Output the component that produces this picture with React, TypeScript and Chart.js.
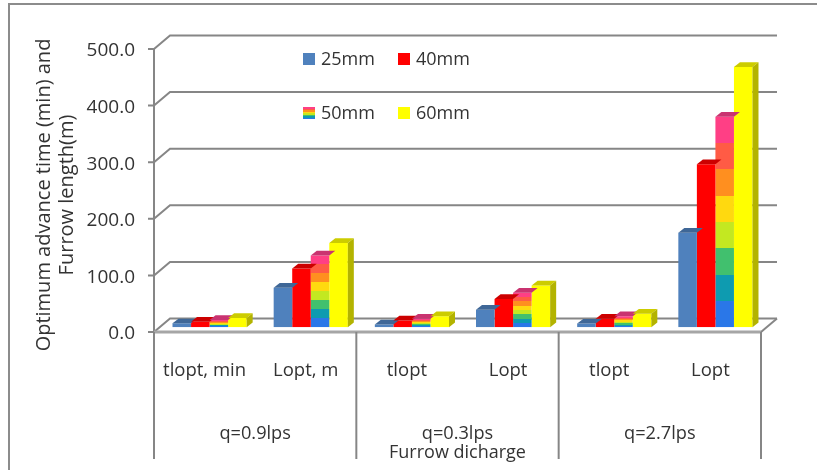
import React, { useEffect, useRef } from "react";
import { Chart, registerables } from "chart.js";

Chart.register(...registerables);

const measures = ["tlopt, min", "Lopt, m", "tlopt", "Lopt", "tlopt", "Lopt"];
const discharges = ["q=0.9lps", "q=0.3lps", "q=2.7lps"];
const seriesNames = ["25mm", "40mm", "50mm", "60mm"];
const values25 = [7, 70, 5, 31, 6.5, 167];
const values40 = [10, 104, 12, 50, 15, 288];
const values50 = [13, 127, 15, 61, 19.5, 372];
const values60 = [16.5, 149, 19.5, 74, 24, 460];
const yTicks = [0, 100, 200, 300, 400, 500];
const yTitleLines = ["Optimum advance time (min) and", "Furrow length(m)"];

const seriesFront = ["#4f81bd", "#ff0000", "", "#ffff00"];
const seriesTop = ["#3f6797", "#cc0000", "#c93370", "#cccc00"];
const seriesSide = ["#375a85", "#b30000", "#b3b300", "#b3b300"];
const bands = ["#2a77e8", "#0e9bb0", "#41c06e", "#c3e821", "#ffd90f", "#ff8f1f", "#ff5b45", "#ff3f85"];

const axisGrey = "#868686";
const textGrey = "#333333";
const fontFamily = '"Open Sans", sans-serif';
const depthX = 16;
const depthY = 13.5;
const barDepthX = 6;
const barDepthY = 4.7;
const barShiftX = 5;
const barShiftY = 4.7;

// Hard-edged rainbow running from the base of a bar to its top.
function bandGradient(ctx: CanvasRenderingContext2D, top: number, bottom: number) {
  const g = ctx.createLinearGradient(0, bottom, 0, top);
  bands.forEach((c, i) => {
    g.addColorStop(i / bands.length, c);
    g.addColorStop((i + 1) / bands.length, c);
  });
  return g;
}

const wallsPlugin = {
  id: "walls",
  beforeDatasetsDraw(chart: any) {
    const { ctx, chartArea: a, scales } = chart;
    const y = scales.y;
    ctx.save();
    ctx.strokeStyle = axisGrey;
    ctx.lineWidth = 2;
    for (const t of yTicks) {
      const py = y.getPixelForValue(t);
      ctx.beginPath();
      ctx.moveTo(a.left - 6, py);
      ctx.lineTo(a.left, py);
      ctx.lineTo(a.left + depthX, py - depthY);
      ctx.lineTo(a.right + depthX, py - depthY);
      ctx.stroke();
    }
    ctx.beginPath();
    ctx.moveTo(a.right, a.bottom);
    ctx.lineTo(a.right + depthX, a.bottom - depthY);
    ctx.stroke();
    ctx.beginPath();
    ctx.moveTo(a.left, a.top);
    ctx.lineTo(a.left, a.bottom);
    ctx.stroke();
    ctx.strokeStyle = "#a6a6a6";
    ctx.lineWidth = 3;
    ctx.beginPath();
    ctx.moveTo(a.left, a.bottom);
    ctx.lineTo(a.right, a.bottom);
    ctx.stroke();
    // Separators between the discharge groups.
    ctx.strokeStyle = axisGrey;
    ctx.lineWidth = 2;
    for (let i = 0; i <= discharges.length; i++) {
      const px = a.left + ((a.right - a.left) * i) / discharges.length;
      ctx.beginPath();
      ctx.moveTo(px, a.bottom);
      ctx.lineTo(px, 459);
      ctx.stroke();
    }
    ctx.restore();
    ctx.save();
    ctx.translate(barShiftX, -barShiftY);
  },
  afterDatasetsDraw(chart: any) {
    const { ctx } = chart;
    // Top and side faces of every bar; the side only shows on the last series.
    chart.data.datasets.forEach((_: any, di: number) => {
      chart.getDatasetMeta(di).data.forEach((bar: any) => {
        const hw = bar.width / 2;
        const l = bar.x - hw;
        const r = bar.x + hw;
        const t = bar.y;
        const b = bar.base;
        ctx.fillStyle = seriesTop[di];
        ctx.beginPath();
        ctx.moveTo(l, t);
        ctx.lineTo(l + barDepthX, t - barDepthY);
        ctx.lineTo(r + barDepthX, t - barDepthY);
        ctx.lineTo(r, t);
        ctx.closePath();
        ctx.fill();
        if (di === chart.data.datasets.length - 1) {
          ctx.fillStyle = seriesSide[di];
          ctx.beginPath();
          ctx.moveTo(r, t);
          ctx.lineTo(r + barDepthX, t - barDepthY);
          ctx.lineTo(r + barDepthX, b - barDepthY);
          ctx.lineTo(r, b);
          ctx.closePath();
          ctx.fill();
        }
      });
    });
    ctx.restore();
  },
  afterDraw(chart: any) {
    const { ctx } = chart;
    // Page frame.
    ctx.save();
    ctx.strokeStyle = "#8c8c8c";
    ctx.lineWidth = 2;
    ctx.beginPath();
    ctx.moveTo(9, 470);
    ctx.lineTo(9, 4);
    ctx.lineTo(817, 4);
    ctx.stroke();
    // Two-by-two legend placed over the back wall.
    const cells = [
      [303, 53],
      [398, 53],
      [303, 107],
      [398, 107],
    ];
    ctx.font = `18px ${fontFamily}`;
    ctx.textBaseline = "middle";
    ctx.textAlign = "left";
    seriesNames.forEach((name, i) => {
      const [x, y] = cells[i];
      ctx.fillStyle = i === 2 ? bandGradient(ctx, y, y + 12) : seriesFront[i];
      ctx.fillRect(x, y, 12, 12);
      ctx.fillStyle = textGrey;
      ctx.fillText(name, x + 18, y + 7);
    });
    // Two-line value axis title, centred a little below the plot's middle.
    ctx.translate(44, 195);
    ctx.rotate(-Math.PI / 2);
    ctx.font = `20px ${fontFamily}`;
    ctx.textAlign = "center";
    yTitleLines.forEach((line, i) => ctx.fillText(line, 0, i * 23));
    ctx.restore();
  },
};

export default function App() {
  const ref = useRef<HTMLCanvasElement>(null);

  useEffect(() => {
    const series = [values25, values40, values50, values60];
    const chart = new Chart(ref.current!, {
      type: "bar",
      data: {
        labels: measures,
        datasets: series.map((data, i) => ({
          label: seriesNames[i],
          data,
          categoryPercentage: 0.733,
          barPercentage: 1,
          xAxisID: "x",
          backgroundColor:
            i === 2
              ? (c: any) => {
                  const s = c.chart.scales.y;
                  const v = c.parsed ? c.parsed.y : undefined;
                  if (!s || v == null) return bands[0];
                  const top = s.getPixelForValue(v);
                  const bottom = s.getPixelForValue(0);
                  if (!Number.isFinite(top) || !Number.isFinite(bottom)) return bands[0];
                  return bandGradient(c.chart.ctx, top, bottom);
                }
              : seriesFront[i],
        })),
      },
      plugins: [wallsPlugin],
      options: {
        responsive: false,
        animation: false,
        layout: { padding: { left: 0, right: 56, top: 49, bottom: 6 } },
        plugins: { legend: { display: false }, tooltip: { enabled: false } },
        scales: {
          y: {
            min: 0,
            max: 500,
            afterFit: (s: any) => {
              s.width = 154;
            },
            afterBuildTicks: (s: any) => {
              s.ticks = yTicks.map((value) => ({ value }));
            },
            border: { display: false },
            grid: { display: false },
            ticks: {
              padding: 11,
              labelOffset: 2,
              color: textGrey,
              font: { family: fontFamily, size: 19 },
              callback: (v: any) => Number(v).toFixed(1),
            },
          },
          x: {
            position: "bottom",
            afterFit: (s: any) => {
              s.height = 80;
            },
            border: { display: false },
            grid: { display: false },
            ticks: {
              autoSkip: false,
              maxRotation: 0,
              padding: 20,
              color: textGrey,
              font: { family: fontFamily, size: 18.5 },
            },
          },
          groups: {
            type: "category",
            position: "bottom",
            labels: discharges,
            afterFit: (s: any) => {
              s.height = 52;
            },
            border: { display: false },
            grid: { display: false },
            ticks: {
              padding: 3,
              color: textGrey,
              font: { family: fontFamily, size: 18.2 },
            },
            title: {
              display: true,
              text: "Furrow dicharge",
              color: textGrey,
              font: { family: fontFamily, size: 18 },
              padding: 0,
            },
          },
        },
      },
    } as any);
    return () => chart.destroy();
  }, []);

  return (
    <div style={{ position: "absolute", left: 0, top: 0, width: 817, height: 470, background: "#fff" }}>
      <canvas ref={ref} width={817} height={470} style={{ display: "block" }} />
    </div>
  );
}
